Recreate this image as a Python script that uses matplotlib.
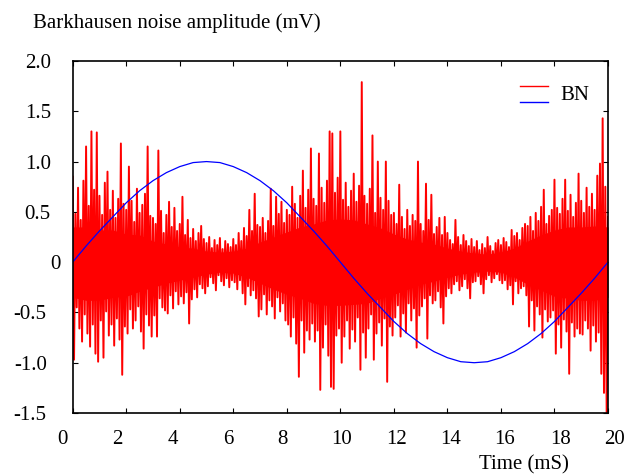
import numpy as np
import matplotlib
matplotlib.use('Agg')
import matplotlib.pyplot as plt
from matplotlib.lines import Line2D
from matplotlib.transforms import ScaledTranslation

plt.rcParams['font.family'] = ['Liberation Serif', 'DejaVu Serif']

# Barkhausen noise: local peaks every 0.05 ms, one row per ms
bn_rows = [
    [0.85, -0.97, 0.48, -0.45, 0.74, -0.66, 0.42, -0.79, 0.81, -0.52, 1.15, -0.71, 0.56, -0.84, 1.30, -0.62, 0.72, -0.91, 1.29, -0.99],
    [0.66, -0.58, 0.47, -0.95, 0.79, -0.49, 0.90, -0.73, 0.52, -0.62, 0.71, -0.83, 0.44, -0.56, 0.63, -0.77, 1.18, -1.12, 0.58, -0.64],
    [0.52, -0.71, 0.95, -0.47, 0.61, -0.66, 0.40, -0.58, 0.73, -0.44, 0.49, -0.69, 0.57, -0.86, 0.68, -0.52, 1.15, -0.63, 0.46, -0.74],
    [0.44, -0.53, 0.38, -0.74, 1.11, -0.36, 0.51, -0.45, 0.29, -0.48, 0.47, -0.51, 0.60, -0.33, 0.35, -0.46, 0.54, -0.29, 0.31, -0.42],
    [0.38, -0.34, 0.65, -0.41, 0.27, -0.30, 0.42, -0.61, 0.24, -0.37, 0.33, -0.27, 0.21, -0.35, 0.29, -0.22, 0.36, -0.26, 0.23, -0.31],
    [0.19, -0.24, 0.25, -0.15, 0.14, -0.21, 0.22, -0.28, 0.17, -0.13, 0.24, -0.19, 0.13, -0.23, 0.21, -0.16, 0.18, -0.25, 0.15, -0.18],
    [0.23, -0.20, 0.17, -0.27, 0.29, -0.18, 0.21, -0.31, 0.34, -0.42, 0.26, -0.24, 0.52, -0.33, 0.31, -0.28, 0.68, -0.36, 0.37, -0.54],
    [0.35, -0.47, 0.44, -0.32, 0.29, -0.52, 0.41, -0.38, 0.73, -0.44, 0.36, -0.56, 0.65, -0.35, 0.48, -0.49, 0.60, -0.41, 0.39, -0.58],
    [0.52, -0.62, 0.47, -0.74, 0.75, -0.55, 0.58, -0.81, 0.44, -1.14, 0.66, -0.58, 0.91, -0.90, 0.54, -0.68, 0.72, -0.77, 1.13, -0.61],
    [0.63, -0.79, 0.56, -0.68, 1.08, -1.27, 0.74, -0.85, 0.59, -0.62, 0.81, -0.93, 1.30, -1.24, 1.28, -1.26, 0.69, -0.73, 0.84, -0.66],
    [1.30, -1.00, 0.62, -0.74, 0.79, -0.58, 0.55, -0.86, 0.71, -0.67, 0.88, -0.79, 0.60, -0.55, 0.76, -1.07, 1.79, -0.70, 0.66, -0.95],
    [0.58, -0.66, 0.73, -0.52, 1.26, -0.97, 0.49, -0.71, 1.00, -0.60, 0.64, -0.83, 0.52, -0.56, 1.00, -1.19, 0.61, -0.64, 0.47, -0.73],
    [0.49, -0.55, 0.38, -0.43, 0.77, -0.74, 0.45, -0.51, 0.33, -0.70, 0.52, -0.41, 0.36, -0.58, 0.47, -0.46, 0.41, -0.85, 1.00, -0.53],
    [0.38, -0.44, 0.31, -0.36, 0.78, -0.76, 0.42, -0.33, 0.67, -0.41, 0.28, -0.38, 0.35, -0.29, 0.44, -0.45, 0.27, -0.61, 0.45, -0.34],
    [0.29, -0.26, 0.22, -0.31, 0.18, -0.22, 0.42, -0.19, 0.25, -0.28, 0.17, -0.24, 0.27, -0.17, 0.21, -0.26, 0.16, -0.36, 0.23, -0.20],
    [0.15, -0.19, 0.21, -0.14, 0.12, -0.22, 0.18, -0.31, 0.14, -0.17, 0.25, -0.13, 0.16, -0.20, 0.11, -0.16, 0.19, -0.12, 0.22, -0.18],
    [0.17, -0.21, 0.24, -0.18, 0.20, -0.27, 0.15, -0.23, 0.32, -0.42, 0.26, -0.19, 0.29, -0.31, 0.22, -0.26, 0.34, -0.24, 0.38, -0.33],
    [0.36, -0.64, 0.45, -0.38, 0.31, -0.68, 0.49, -0.44, 0.41, -0.52, 0.55, -0.75, 0.72, -0.47, 0.38, -0.59, 0.46, -0.55, 0.52, -0.48],
    [0.82, -0.91, 0.54, -0.62, 0.48, -0.85, 0.63, -0.57, 0.82, -0.69, 0.51, -1.11, 0.67, -0.60, 0.45, -0.74, 0.59, -0.66, 0.88, -0.71],
    [0.61, -0.72, 0.49, -0.58, 0.74, -0.66, 0.55, -0.88, 0.68, -0.63, 0.52, -0.79, 0.86, -0.70, 0.98, -1.11, 1.43, -1.30, 0.75, -1.50],
]
bn_end = 0.45  # value at t = 20 ms

# dense (solid) part of the noise band, read every 0.5 ms
core_top = [0.35, 0.35, 0.32, 0.32, 0.28, 0.27, 0.21, 0.18, 0.15, 0.14, 0.11,
            0.10, 0.11, 0.14, 0.20, 0.25, 0.30, 0.35, 0.38, 0.42, 0.43,
            0.42, 0.38, 0.34, 0.28, 0.23, 0.20, 0.18, 0.14, 0.11, 0.09,
            0.08, 0.10, 0.14, 0.21, 0.27, 0.32, 0.35, 0.35, 0.36, 0.35]
core_bot = [-0.35, -0.38, -0.38, -0.35, -0.34, -0.29, -0.25, -0.21, -0.18, -0.15, -0.12,
            -0.10, -0.11, -0.15, -0.21, -0.27, -0.32, -0.36, -0.41, -0.43, -0.43,
            -0.42, -0.41, -0.36, -0.32, -0.27, -0.22, -0.19, -0.15, -0.12, -0.10,
            -0.09, -0.10, -0.15, -0.22, -0.28, -0.34, -0.36, -0.38, -0.38, -0.35]

# excitation reference (blue), read every 0.5 ms
ref_vals = [0.00, 0.16, 0.31, 0.45, 0.59, 0.71, 0.81, 0.89, 0.95, 0.99, 1.00,
            0.99, 0.95, 0.89, 0.81, 0.71, 0.59, 0.45, 0.31, 0.16, 0.00,
            -0.16, -0.31, -0.45, -0.59, -0.71, -0.81, -0.89, -0.95, -0.99, -1.00,
            -0.99, -0.95, -0.89, -0.81, -0.71, -0.59, -0.45, -0.31, -0.16, 0.00]

x_ticks = [0, 2, 4, 6, 8, 10, 12, 14, 16, 18, 20]
y_ticks = [2.0, 1.5, 1.0, 0.5, 0.0, -0.5, -1.0, -1.5]
y_tick_labels = ['2.0', '1.5', '1.0', '0.5', '0', '-0.5', '-1.0', '-1.5']

bn = np.array([v for row in bn_rows for v in row] + [bn_end])
bn_t = np.linspace(0, 20, len(bn))
ref_t = np.linspace(0, 20, len(ref_vals))
core_t = np.linspace(0, 20, len(core_top))

W, H = 638, 474
fig = plt.figure(figsize=(W / 100, H / 100), dpi=100)
ax = fig.add_axes([72.7 / W, 1 - 413 / H, (608 - 72.7) / W, 352 / H])

ax.fill_between(core_t, core_bot, core_top, color='#ff0000', lw=0)
ax.plot(bn_t, bn, color='#ff0000', lw=1.4)
ax.plot(ref_t, ref_vals, color='#0000ff', lw=0.9)

ax.set_xlim(0, 20)
ax.set_ylim(-1.5, 2.0)
ax.set_xticks(x_ticks)
ax.set_xticklabels([str(v) for v in x_ticks])
ax.set_yticks(y_ticks)
ax.set_yticklabels(y_tick_labels)

for s in ax.spines.values():
    s.set_linewidth(1.2)
    s.set_color('black')

ax.tick_params(direction='in', length=3.6, width=0.8, top=True, right=True, labelsize=15)
ax.tick_params(axis='x', pad=19.4)
ax.tick_params(axis='y', pad=0)

# gnuplot-like label placement (pixel shifts)
x_shift = [-10.5, -8.7, -6.6, -4.6, -4.0, 1.3, 2.2, 3.2, 4.0, 5.7, 6.5]
for lbl, dx in zip(ax.get_xticklabels(), x_shift):
    lbl.set_va('center')
    lbl.set_transform(lbl.get_transform() + ScaledTranslation(dx / 100, 0, fig.dpi_scale_trans))

y_centers = [38.5, 38.5, 38.3, 37.8, 55.3, 30.0, 30.5, 30.0]
for lbl, cx in zip(ax.get_yticklabels(), y_centers):
    lbl.set_ha('center')
    lbl.set_transform(lbl.get_transform() + ScaledTranslation((cx - 72.7) / 100, 0, fig.dpi_scale_trans))

# axis titles
fig.text(33 / W, 1 - 28.3 / H, 'Barkhausen noise amplitude (mV)', fontsize=15, ha='left', va='baseline')
fig.text(524 / W, 5 / H, 'Time (mS)', fontsize=15, ha='center', va='baseline')

# legend: both traces share the "BN" entry
fig.add_artist(Line2D([520 / W, 548 / W], [1 - 86 / H] * 2, color='#ff0000', lw=1))
fig.add_artist(Line2D([520 / W, 548 / W], [1 - 102 / H] * 2, color='#0000ff', lw=1))
fig.text(560 / W, 1 - 100 / H, 'BN', fontsize=15, ha='left', va='baseline')

fig.savefig('out.png', dpi=100)
